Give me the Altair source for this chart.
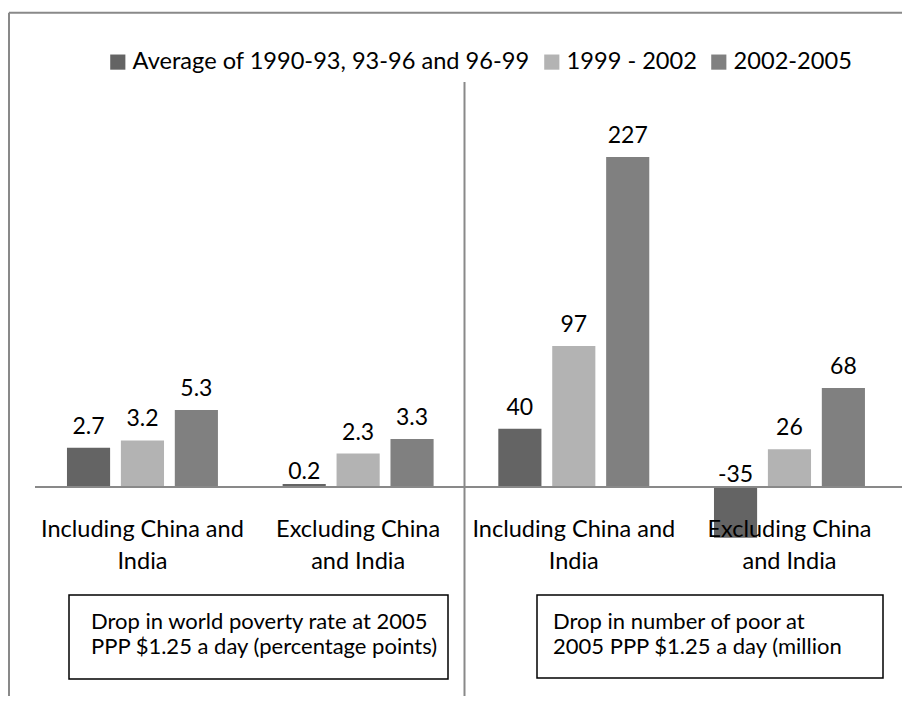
import altair as alt
import pandas as pd

# ---------------- data ----------------
series = ["Average of 1990-93, 93-96 and 96-99", "1999 - 2002", "2002-2005"]
series_colors = ["#646464", "#b3b3b3", "#808080"]

category_labels = ["Including China and\nIndia", "Excluding China\nand India"]

# Drop in world poverty rate (percentage points)
rate_including = [2.7, 3.2, 5.3]
rate_excluding = [0.2, 2.3, 3.3]

# Drop in number of poor (million)
poor_including = [40, 97, 227]
poor_excluding = [-35, 26, 68]

note_left = "Drop in world poverty rate at 2005\nPPP $1.25 a day  (percentage points)"
note_right = "Drop in number of poor at\n2005 PPP $1.25 a day (million"

# In the original chart both measures share one value axis; the
# percentage-point series are drawn at ten times the scale of the millions.
RATE_FACTOR = 10

rows = []
groups = []
for measure, factor, fmt, value_sets in [
    ("rate", RATE_FACTOR, "{:.1f}", [rate_including, rate_excluding]),
    ("poor", 1, "{:d}", [poor_including, poor_excluding]),
]:
    for cat, vals in zip(category_labels, value_sets):
        g = f"{measure}|{cat}"
        groups.append({"group": g, "cat_label": cat})
        for s, v in zip(series, vals):
            rows.append({
                "group": g,
                "series": s,
                "value": v,
                "plot_value": v * factor,
                "label": fmt.format(v),
            })

df = pd.DataFrame(rows)
gdf = pd.DataFrame(groups)
group_order = list(gdf["group"])
one = pd.DataFrame({"k": [0]})

FONT = "Lato"
LINE = "#898989"

x_scale = alt.Scale(domain=group_order, paddingInner=0, paddingOuter=0.0726, align=0.85)
x_enc = alt.X("group:N", sort=group_order, axis=None, scale=x_scale)
xo_enc = alt.XOffset("series:N", sort=series,
                     scale=alt.Scale(domain=series, paddingInner=0.2, paddingOuter=0.6))
y_scale = alt.Scale(domain=[-143.8, 329.5], nice=False, zero=False)

base = alt.Chart(df)

bars = base.mark_bar().encode(
    x=x_enc,
    xOffset=xo_enc,
    y=alt.Y("plot_value:Q", scale=y_scale, axis=None),
    y2=alt.datum(0),
    color=alt.Color(
        "series:N",
        sort=series,
        scale=alt.Scale(domain=series, range=series_colors),
        legend=alt.Legend(
            title=None,
            orient="none",
            legendX=98,
            legendY=42,
            direction="horizontal",
            columns=3,
            symbolType="square",
            symbolSize=230,
            symbolStrokeWidth=0,
            symbolOpacity=1,
            labelFont=FONT,
            labelFontSize=23.6,
            labelColor="black",
            labelLimit=1000,
            labelOffset=3,
            columnPadding=10,
            padding=0,
        ),
    ),
)

labels_hi = base.transform_calculate(
    label_y="max(datum.plot_value, 0)"
).transform_filter("datum.plot_value > 5").mark_text(
    font=FONT, fontSize=23, color="black", baseline="alphabetic", dy=-14
).encode(x=x_enc, xOffset=xo_enc, y=alt.Y("label_y:Q", scale=y_scale, axis=None),
         text="label:N")

labels_lo = base.transform_calculate(
    label_y="max(datum.plot_value, 0)"
).transform_filter("datum.plot_value <= 5").mark_text(
    font=FONT, fontSize=23, color="black", baseline="alphabetic", dy=-5
).encode(x=x_enc, xOffset=xo_enc, y=alt.Y("label_y:Q", scale=y_scale, axis=None),
         text="label:N")

zero_line = alt.Chart(one).mark_rule(color=LINE, strokeWidth=2).encode(
    y=alt.Y(datum=0, scale=y_scale, axis=None), x=alt.value(27), x2=alt.value(894)
)

cat_text = alt.Chart(gdf).mark_text(
    font=FONT, fontSize=23.5, color="black", lineBreak="\n", lineHeight=32,
    baseline="alphabetic", align="center"
).encode(x=x_enc, y=alt.value(529), text="cat_label:N")

divider = alt.Chart(one).mark_rule(color=LINE, strokeWidth=2).encode(
    x=alt.value(456.5), y=alt.value(74), y2=alt.value(688)
)
frame_top = alt.Chart(one).mark_rule(color=LINE, strokeWidth=2).encode(
    x=alt.value(1), x2=alt.value(894), y=alt.value(4.7)
)
frame_left = alt.Chart(one).mark_rule(color=LINE, strokeWidth=2).encode(
    x=alt.value(1), y=alt.value(4.7), y2=alt.value(688)
)

box_left = alt.Chart(one).mark_rect(fill="white", stroke="black", strokeWidth=1.5).encode(
    x=alt.value(61), x2=alt.value(440), y=alt.value(587), y2=alt.value(671)
)
box_right = alt.Chart(one).mark_rect(fill="white", stroke="black", strokeWidth=1.5).encode(
    x=alt.value(529), x2=alt.value(875), y=alt.value(587), y2=alt.value(670)
)
note_l = alt.Chart(pd.DataFrame({"t": [note_left]})).mark_text(
    font=FONT, fontSize=22, color="black", lineBreak="\n", lineHeight=25,
    align="left", baseline="alphabetic"
).encode(x=alt.value(83), y=alt.value(621), text="t:N")
note_r = alt.Chart(pd.DataFrame({"t": [note_right]})).mark_text(
    font=FONT, fontSize=22, color="black", lineBreak="\n", lineHeight=25,
    align="left", baseline="alphabetic"
).encode(x=alt.value(545), y=alt.value(621), text="t:N")

chart = alt.layer(
    frame_top, frame_left, divider, bars, zero_line, labels_hi, labels_lo,
    cat_text, box_left, box_right, note_l, note_r
).properties(
    width=894, height=688,
    autosize=alt.AutoSizeParams(type="none"),
    padding=0,
).configure_view(stroke=None)

chart.save("out.html", embed_options={"renderer": "svg", "actions": False})
